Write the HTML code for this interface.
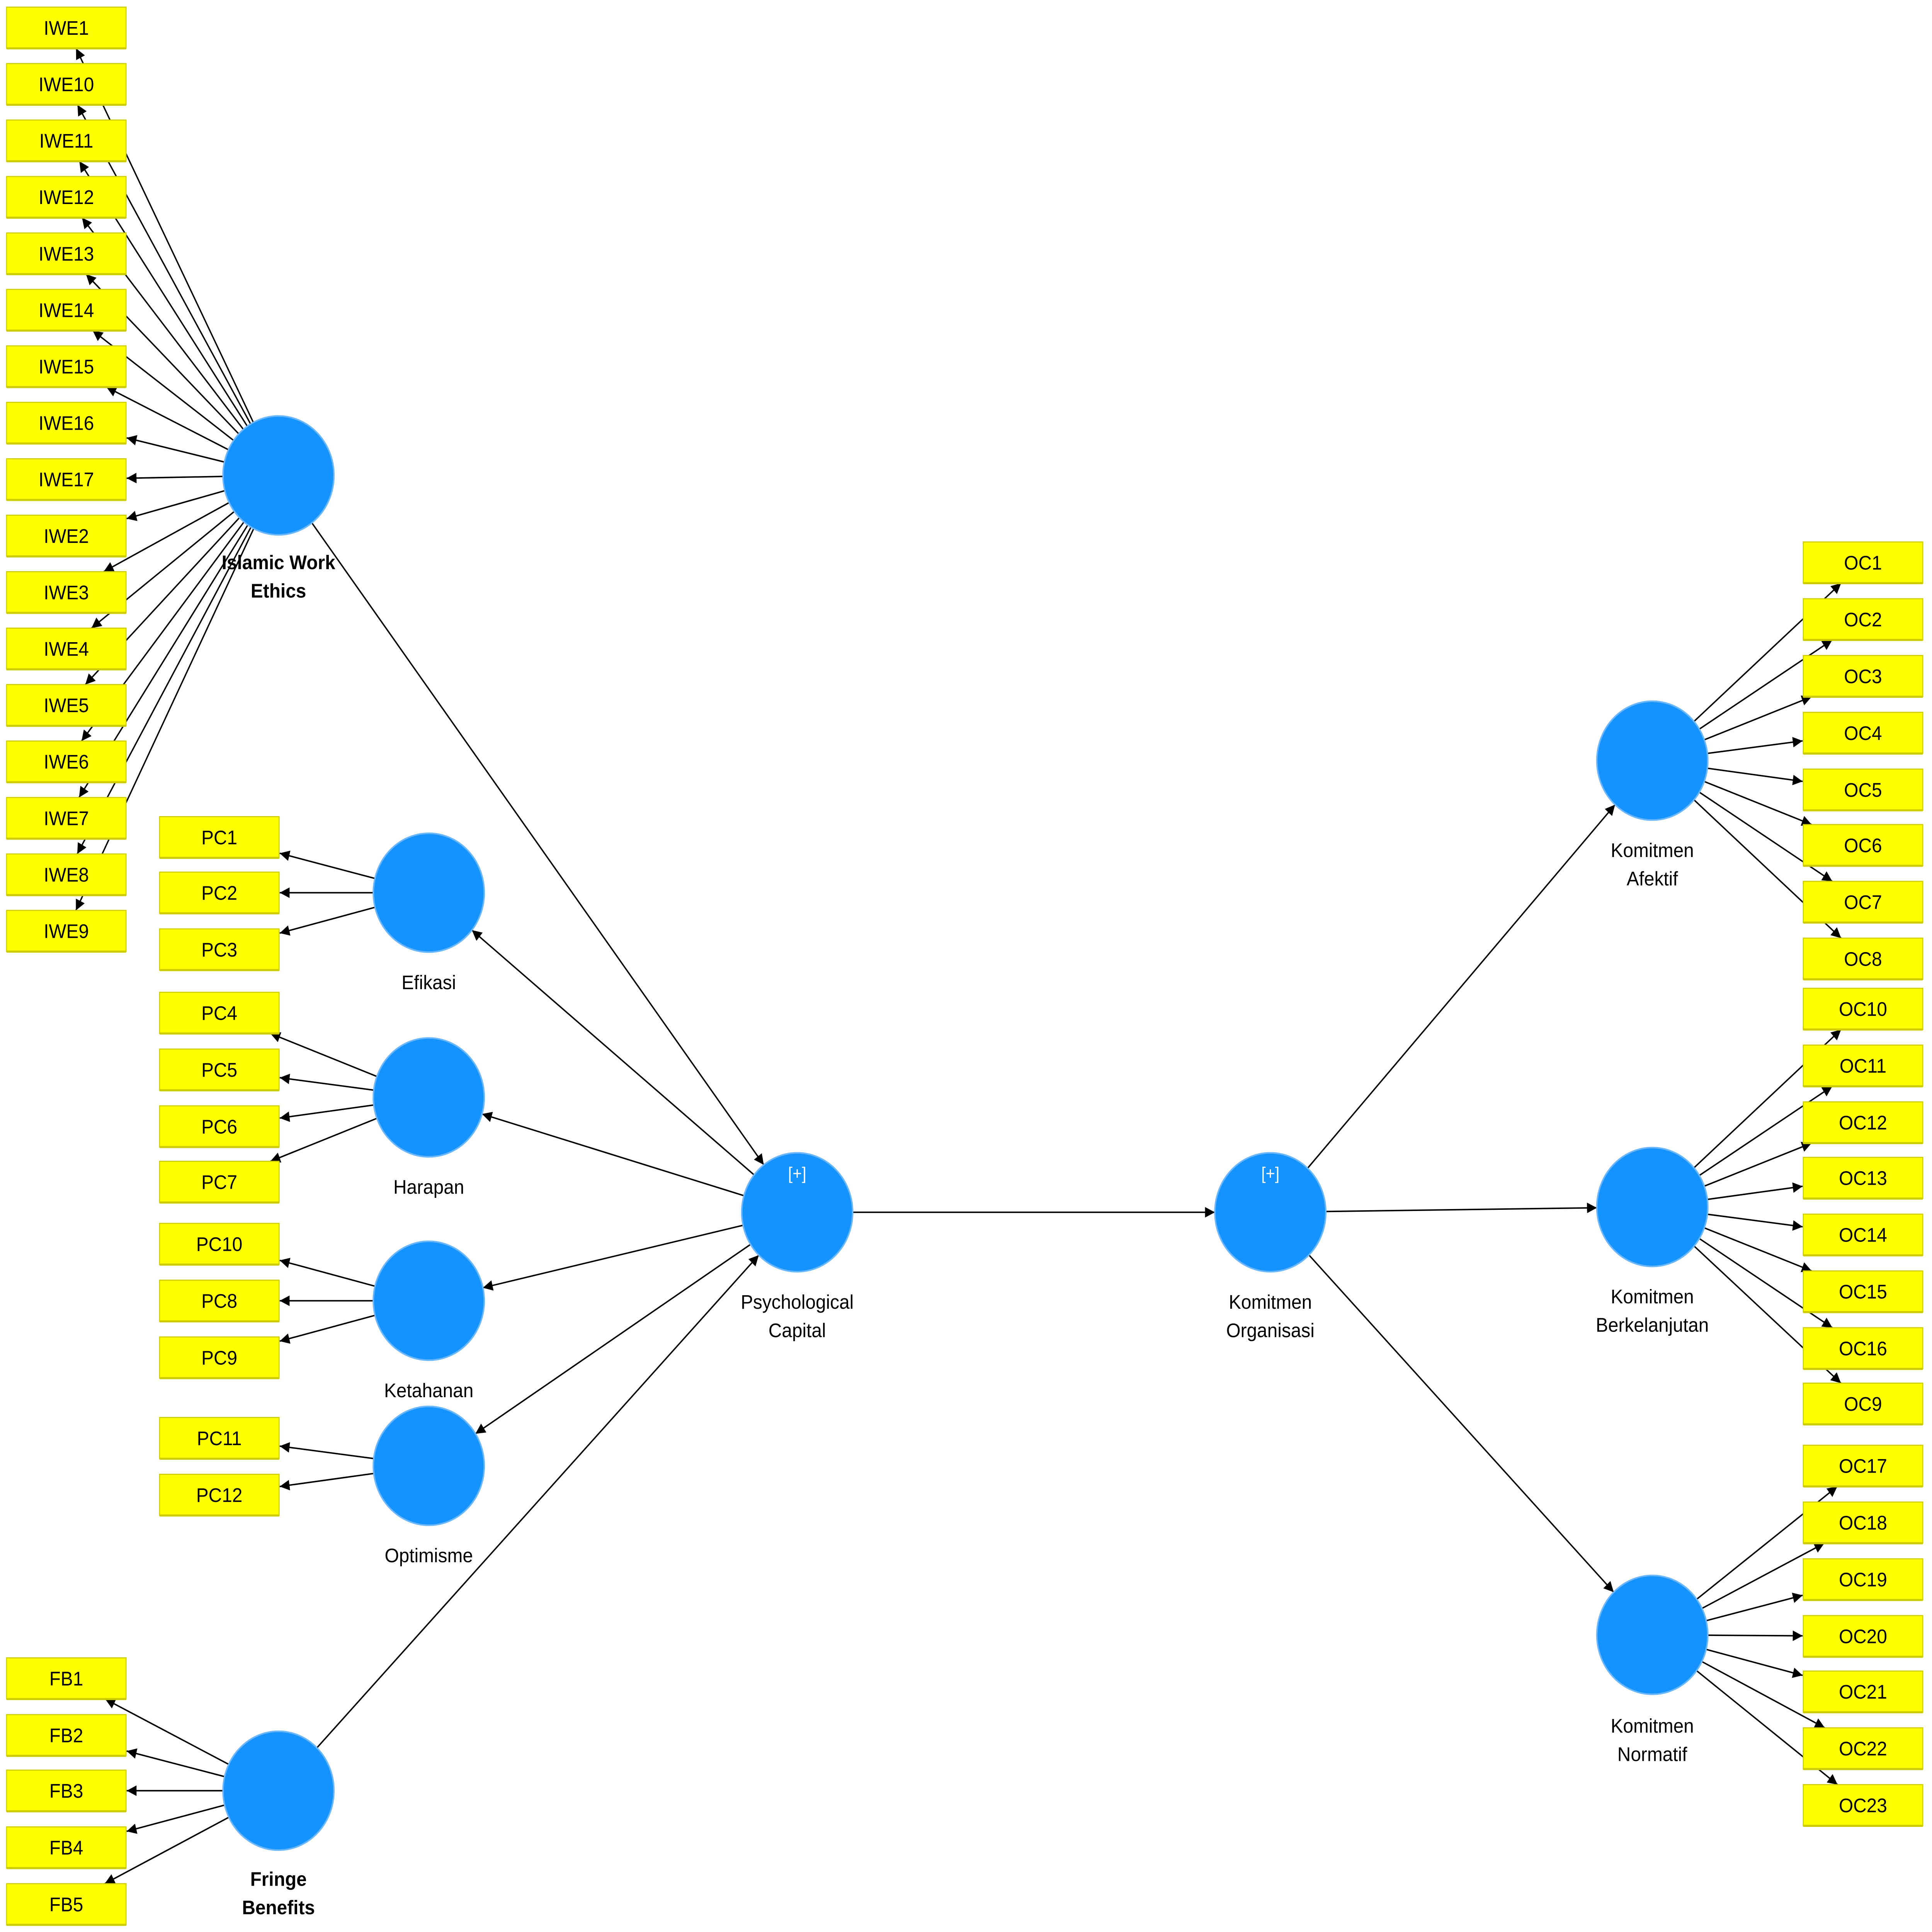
<!DOCTYPE html>
<html><head><meta charset="utf-8"><style>
html,body{margin:0;padding:0;background:#fff;width:100%;height:100%;overflow:hidden;}
svg{display:block;position:fixed;left:0;top:0;width:100vw;height:100vh;}
text{font-family:"Liberation Sans",sans-serif;}
</style></head><body>
<svg id="s" xmlns="http://www.w3.org/2000/svg" viewBox="0 0 1568 1463" preserveAspectRatio="none">
<defs><marker id="a" viewBox="0 0 10 10" refX="10" refY="5" markerWidth="8" markerHeight="8" markerUnits="userSpaceOnUse" orient="auto"><path d="M0,0L10,5L0,10z" fill="#000"/></marker></defs>
<g id="L"></g><g id="N"></g>
</svg>
<script>
var NS="http://www.w3.org/2000/svg",L=document.getElementById('L'),N=document.getElementById('N');
function el(p,t,a,txt){var e=document.createElementNS(NS,t);for(var k in a)e.setAttribute(k,a[k]);if(txt)e.textContent=txt;p.appendChild(e);return e;}
var R=45,HW=49,HH=15.6;
var C={IWE:[226,360],FB:[226,1356],EF:[348,676],HA:[348,831],KE:[348,985],OP:[348,1110],PC:[647,918],KO:[1031,918],KA:[1341,576],KB:[1341,914],KN:[1341,1238]};
var boxes=[];
function ind(lat,x,list){list.forEach(function(it){boxes.push({n:it[0],x:x,y:it[1]});var c=C[lat],dx=x-c[0],dy=it[1]-c[1],d=Math.hypot(dx,dy),ux=dx/d,uy=dy/d;
var t=Math.min(HW/Math.abs(dx),HH/Math.abs(dy));
el(L,'line',{x1:c[0]+ux*R,y1:c[1]+uy*R,x2:x-dx*t,y2:it[1]-dy*t,stroke:'#000','stroke-width':1.1,'marker-end':'url(#a)'});});}
var iwe=['IWE1','IWE10','IWE11','IWE12','IWE13','IWE14','IWE15','IWE16','IWE17','IWE2','IWE3','IWE4','IWE5','IWE6','IWE7','IWE8','IWE9'];
ind('IWE',53.8,iwe.map(function(n,i){return [n,21+i*42.75];}));
ind('FB',53.8,[['FB1',1271],['FB2',1314],['FB3',1356],['FB4',1399],['FB5',1442]]);
ind('EF',178,[['PC1',634],['PC2',676],['PC3',719]]);
ind('HA',178,[['PC4',767],['PC5',810],['PC6',853],['PC7',895]]);
ind('KE',178,[['PC10',942],['PC8',985],['PC9',1028]]);
ind('OP',178,[['PC11',1089],['PC12',1132]]);
ind('KA',1512,[['OC1',426],['OC2',469],['OC3',512],['OC4',555],['OC5',598],['OC6',640],['OC7',683],['OC8',726]]);
ind('KB',1512,[['OC10',764],['OC11',807],['OC12',850],['OC13',892],['OC14',935],['OC15',978],['OC16',1021],['OC9',1063]]);
ind('KN',1512,[['OC17',1110],['OC18',1153],['OC19',1196],['OC20',1239],['OC21',1281],['OC22',1324],['OC23',1367]]);
function st(a,b){var p=C[a],q=C[b],dx=q[0]-p[0],dy=q[1]-p[1],d=Math.hypot(dx,dy),ux=dx/d,uy=dy/d;
el(L,'line',{x1:p[0]+ux*R,y1:p[1]+uy*R,x2:q[0]-ux*R,y2:q[1]-uy*R,stroke:'#000','stroke-width':1.1,'marker-end':'url(#a)'});}
[['IWE','PC'],['FB','PC'],['PC','EF'],['PC','HA'],['PC','KE'],['PC','OP'],['PC','KO'],['KO','KA'],['KO','KB'],['KO','KN']].forEach(function(p){st(p[0],p[1]);});
boxes.forEach(function(b){el(N,'rect',{x:b.x-HW+0.5,y:b.y-HH,width:2*HW-1,height:2*HH,fill:'#ffff00',stroke:'#cccc00','stroke-width':0.8});
el(N,'line',{x1:b.x-HW+0.5,y1:b.y+HH,x2:b.x+HW-0.5,y2:b.y+HH,stroke:'#cccc00','stroke-width':1.6});
el(N,'text',{x:b.x,y:b.y+5.3,'text-anchor':'middle','font-size':15,fill:'#000'},b.n);});
var labels={IWE:[['Islamic Work','Ethics'],426,1],FB:[['Fringe','Benefits'],1423,1],EF:[['Efikasi'],744,0],HA:[['Harapan'],899,0],KE:[['Ketahanan'],1053,0],OP:[['Optimisme'],1178,0],PC:[['Psychological','Capital'],986,0],KO:[['Komitmen','Organisasi'],986,0],KA:[['Komitmen','Afektif'],644,0],KB:[['Komitmen','Berkelanjutan'],982,0],KN:[['Komitmen','Normatif'],1307,0]};
for(var k in C){var c=C[k];el(N,'circle',{cx:c[0],cy:c[1],r:R,fill:'#1493ff',stroke:'#6ab6ff','stroke-width':1.2});
var lb=labels[k];lb[0].forEach(function(t,i){el(N,'text',{x:c[0],y:lb[1]+5+i*21.5,'text-anchor':'middle','font-size':15,'font-weight':lb[2]?'bold':'normal',fill:'#000'},t);});}
['PC','KO'].forEach(function(k){el(N,'text',{x:C[k][0],y:C[k][1]-25,'text-anchor':'middle','font-size':13,fill:'#fff'},'[+]');});
</script>
</body></html>
